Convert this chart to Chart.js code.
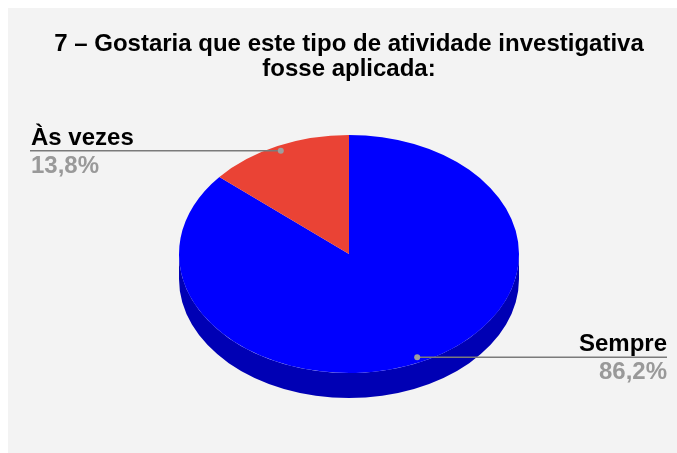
<!DOCTYPE html>
<html>
<head>
<meta charset="utf-8">
<script src="https://cdn.jsdelivr.net/npm/chart.js@4.4.1/dist/chart.umd.min.js"></script>
<style>
  html, body { margin: 0; padding: 0; background: #ffffff; }
  #wrap { position: absolute; left: 8px; top: 8px; width: 669px; height: 445px; background: #f3f3f3; }
</style>
</head>
<body>
<div id="wrap"><canvas id="pie" width="669" height="445"></canvas></div>
<script>
// --- data ---
const labels = ['Sempre', 'Às vezes'];
const values = [86.2, 13.8];
const percentLabels = ['86,2%', '13,8%'];
const titleLines = ['7 – Gostaria que este tipo de atividade investigativa', 'fosse aplicada:'];

const colors = {
    top: ['#0000ff', '#ea4335'],
    side: ['#0000b4', '#a82e25'],
    label: '#000000',
    percent: '#999999',
    leader: '#7a7a7a',
    dot: '#9e9e9e'
};

const FONT = "'Liberation Sans', Arial, sans-serif";
const tilt = 0.7;      // vertical squash of the pie
const depth = 25;      // thickness of the pie, px
const centerY = 246;   // where the top face centre sits

// squash the pie into an ellipse and give it a side wall
const pie3d = {
    id: 'pie3d',
    beforeDatasetsDraw(chart) {
        const ctx = chart.ctx;
        const arcs = chart.getDatasetMeta(0).data;
        const cx = arcs[0].x, cy = arcs[0].y, r = arcs[0].outerRadius;
        ctx.save();
        // side wall, only the front half is visible
        arcs.forEach((arc, i) => {
            let a1 = Math.max(arc.startAngle, 0);
            let a2 = Math.min(arc.endAngle, Math.PI);
            if (arc.endAngle > 2 * Math.PI) {
                a1 = Math.max(arc.startAngle - 2 * Math.PI, 0);
                a2 = Math.min(arc.endAngle - 2 * Math.PI, Math.PI);
            }
            if (a2 <= a1) return;
            ctx.beginPath();
            ctx.ellipse(cx, centerY, r, r * tilt, 0, a1, a2);
            ctx.ellipse(cx, centerY + depth, r, r * tilt, 0, a2, a1, true);
            ctx.closePath();
            ctx.fillStyle = colors.side[i];
            ctx.fill();
        });
        ctx.translate(0, centerY);
        ctx.scale(1, tilt);
        ctx.translate(0, -cy);
    },
    afterDatasetsDraw(chart) {
        chart.ctx.restore();
    }
};

// leader lines with name + percentage
const sideLabels = {
    id: 'sideLabels',
    afterDraw(chart) {
        const ctx = chart.ctx;
        const arcs = chart.getDatasetMeta(0).data;
        arcs.forEach((arc, i) => {
            const mid = (arc.startAngle + arc.endAngle) / 2;
            const rr = arc.outerRadius * 0.955;
            const px = arc.x + Math.cos(mid) * rr;
            const py = centerY + Math.sin(mid) * rr * tilt;
            const right = Math.cos(mid) > 0;
            const endX = right ? 659 : 22;
            ctx.save();
            ctx.strokeStyle = colors.leader;
            ctx.lineWidth = 1.5;
            ctx.beginPath();
            ctx.moveTo(px, py);
            ctx.lineTo(endX, py);
            ctx.stroke();
            ctx.fillStyle = colors.dot;
            ctx.beginPath();
            ctx.arc(px, py, 3, 0, Math.PI * 2);
            ctx.fill();
            ctx.textAlign = right ? 'right' : 'left';
            const tx = right ? endX : endX + 1;
            ctx.font = 'bold 24px ' + FONT;
            ctx.fillStyle = colors.label;
            ctx.textBaseline = 'alphabetic';
            ctx.fillText(labels[i], tx, py - 6);
            ctx.fillStyle = colors.percent;
            ctx.fillText(percentLabels[i], tx, py + 22);
            ctx.restore();
        });
    }
};

new Chart(document.getElementById('pie'), {
    type: 'pie',
    data: {
        labels: labels,
        datasets: [{
            data: values,
            backgroundColor: colors.top,
            borderWidth: 0,
            hoverOffset: 0
        }]
    },
    options: {
        responsive: false,
        animation: false,
        radius: 170,
        layout: { padding: { left: 13, right: 0, top: 0, bottom: 0 } },
        plugins: {
            legend: { display: false },
            tooltip: { enabled: false },
            title: {
                display: true,
                text: titleLines,
                color: '#000000',
                font: { family: FONT, size: 24, weight: 'bold', lineHeight: 1.04 },
                padding: { top: 24, bottom: 10 }
            }
        }
    },
    plugins: [pie3d, sideLabels]
});
</script>
</body>
</html>
